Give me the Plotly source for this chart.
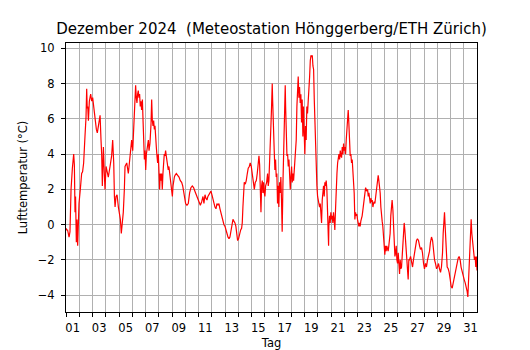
import plotly.graph_objects as go

# Zeit in Tagen seit 1. Dezember 2024 00:00
tag = [
 0.00, 0.05, 0.12, 0.23, 0.30, 0.38, 0.48, 0.55, 0.58, 0.63, 0.68, 0.72, 0.78, 0.83, 0.88, 0.93, 0.98,
 1.08, 1.18, 1.25, 1.33, 1.43, 1.51, 1.56, 1.60, 1.64, 1.69, 1.76, 1.86, 1.94,
 2.01, 2.11, 2.19, 2.29, 2.36, 2.44, 2.57, 2.64, 2.69, 2.74, 2.82, 2.89, 2.94,
 3.02, 3.12, 3.19, 3.32, 3.44, 3.52, 3.60, 3.65, 3.70, 3.77, 3.85, 3.95,
 4.02, 4.10, 4.17, 4.25, 4.32, 4.40, 4.45, 4.58, 4.70, 4.78, 4.85, 4.95,
 5.03, 5.10, 5.15, 5.20, 5.25, 5.30, 5.35, 5.40, 5.45, 5.50, 5.55, 5.60, 5.65, 5.70, 5.76, 5.81, 5.86, 5.91, 5.96,
 6.01, 6.06, 6.11, 6.16, 6.21, 6.26, 6.33, 6.41, 6.46, 6.51, 6.56, 6.61, 6.66, 6.71, 6.76, 6.81, 6.86, 6.91, 6.96,
 7.01, 7.06, 7.11, 7.16, 7.21, 7.26, 7.31, 7.36, 7.41, 7.46, 7.51, 7.56, 7.61, 7.66, 7.71, 7.76, 7.82, 7.87, 7.92, 7.97,
 8.02, 8.07, 8.12, 8.17, 8.22, 8.32, 8.42, 8.52, 8.62, 8.72, 8.80, 8.87, 8.95,
 9.02, 9.12, 9.22, 9.32, 9.42, 9.52, 9.62, 9.72, 9.82, 9.93,
 10.03, 10.13, 10.23, 10.33, 10.40, 10.48, 10.55, 10.63, 10.70, 10.78, 10.85, 10.93,
 11.00, 11.08, 11.16, 11.23, 11.31, 11.38, 11.46, 11.53, 11.61, 11.68, 11.76, 11.83, 11.91, 11.99,
 12.06, 12.14, 12.21, 12.29, 12.36, 12.44, 12.51, 12.59, 12.66, 12.74, 12.81, 12.86, 12.94,
 13.01, 13.09, 13.17, 13.24, 13.29, 13.34, 13.39, 13.44, 13.52, 13.59, 13.67, 13.74, 13.82, 13.89, 13.97,
 14.04, 14.12, 14.20, 14.27, 14.35, 14.42, 14.50, 14.55, 14.60, 14.65, 14.70, 14.75, 14.80, 14.85, 14.90, 14.95,
 15.00, 15.05, 15.13, 15.20, 15.25, 15.30, 15.35, 15.40, 15.45, 15.50, 15.55, 15.58, 15.62, 15.65, 15.70, 15.75,
 15.80, 15.85, 15.90, 15.95,
 16.00, 16.05, 16.10, 16.15, 16.20, 16.25, 16.30, 16.36, 16.41, 16.46, 16.51, 16.53, 16.56, 16.61, 16.66, 16.71,
 16.76, 16.81, 16.86, 16.91, 16.96,
 17.01, 17.06, 17.11, 17.16, 17.21, 17.26, 17.31, 17.36, 17.41, 17.46, 17.51, 17.56, 17.61, 17.66, 17.71, 17.76,
 17.81, 17.86, 17.91, 17.96,
 18.01, 18.06, 18.11, 18.16, 18.21, 18.27, 18.32, 18.37, 18.42, 18.47, 18.52, 18.57, 18.62, 18.67, 18.72, 18.77,
 18.82, 18.87, 18.92, 18.97,
 19.02, 19.07, 19.12, 19.17, 19.22, 19.27, 19.32, 19.37, 19.42, 19.47, 19.52, 19.57, 19.62, 19.67, 19.72, 19.77,
 19.80, 19.82, 19.87, 19.92, 19.97,
 20.02, 20.07, 20.12, 20.17, 20.22, 20.27, 20.33, 20.38, 20.43, 20.48, 20.53, 20.58, 20.63, 20.68, 20.73, 20.78,
 20.83, 20.88, 20.93, 20.98,
 21.03, 21.08, 21.13, 21.18, 21.23, 21.28, 21.33, 21.38, 21.43, 21.48, 21.53, 21.58, 21.63, 21.68, 21.73, 21.78,
 21.83, 21.88, 21.93, 21.98,
 22.03, 22.08, 22.13, 22.18, 22.23, 22.28, 22.33, 22.38, 22.43, 22.48, 22.54, 22.59, 22.64, 22.69, 22.74, 22.79,
 22.84, 22.89, 22.94, 22.99,
 23.04, 23.09, 23.14, 23.19, 23.24, 23.29, 23.34, 23.39, 23.44, 23.49, 23.54, 23.59, 23.64, 23.69, 23.74, 23.79,
 23.84, 23.89, 23.94, 23.99,
 24.04, 24.09, 24.14, 24.19, 24.24, 24.29, 24.34, 24.39, 24.44, 24.49, 24.54, 24.59, 24.65, 24.70, 24.75, 24.80,
 24.85, 24.90, 24.95,
 25.00, 25.05, 25.10, 25.15, 25.20, 25.25, 25.30, 25.35, 25.40, 25.45, 25.50, 25.55, 25.60, 25.65, 25.70, 25.75,
 25.80, 25.85, 25.90, 25.98,
 26.05, 26.13, 26.20, 26.28, 26.35, 26.43, 26.50, 26.58, 26.66, 26.73, 26.81, 26.88, 26.96,
 27.03, 27.11, 27.18, 27.26, 27.33, 27.41, 27.48, 27.56, 27.64, 27.71, 27.79, 27.86, 27.94,
 28.01, 28.09, 28.16, 28.24, 28.31, 28.39, 28.44, 28.49, 28.54, 28.59, 28.64, 28.69, 28.74, 28.82, 28.89, 28.97,
 29.04, 29.12, 29.19, 29.27, 29.34, 29.42, 29.49, 29.57, 29.64, 29.72, 29.79, 29.87, 29.95,
 30.02, 30.10, 30.17, 30.25, 30.30, 30.35, 30.40, 30.45, 30.50, 30.55, 30.60, 30.65, 30.70, 30.75, 30.80, 30.85,
 30.90, 30.95, 30.99,
]

# Lufttemperatur in °C
temperatur = [
 -0.2, -0.3, -0.3, -0.7, -0.4, 2.0, 3.2, 4.0, 4.0, 3.4, 0.7, 1.6, -1.0, 0.3, -1.2, -0.1, 1.2,
 2.0, 2.9, 3.0, 3.5, 5.0, 6.1, 7.7, 6.6, 6.7, 5.9, 7.0, 7.4, 7.0,
 7.2, 6.5, 5.9, 5.4, 5.2, 5.7, 6.2, 4.8, 4.0, 2.2, 4.4, 2.9, 2.0,
 3.3, 2.9, 2.7, 3.3, 3.9, 4.8, 3.5, 1.6, 1.0, 1.6, 1.7, 1.0,
 0.7, 0.3, -0.5, 0.1, 0.7, 2.0, 3.3, 3.5, 2.9, 3.5, 4.0, 4.8,
 4.2, 5.4, 5.9, 6.7, 7.9, 7.2, 6.9, 7.4, 7.6, 7.2, 7.4, 6.7, 7.0, 6.5, 7.1, 5.9, 4.4, 3.7, 4.2,
 3.1, 4.0, 4.2, 4.4, 4.8, 4.2, 4.6, 5.7, 7.1, 5.9, 5.6, 5.9, 5.4, 5.6, 5.2, 4.4, 3.9, 3.5, 4.0,
 3.1, 2.0, 2.9, 2.5, 2.9, 2.0, 2.9, 3.3, 4.0, 3.9, 4.2, 3.9, 3.7, 3.5, 3.1, 3.3, 2.9, 2.7, 2.4, 2.0,
 1.6, 2.2, 2.6, 2.7, 2.8, 2.9, 2.8, 2.7, 2.5, 2.4, 2.2, 1.8, 1.4,
 1.2, 1.1, 1.2, 1.8, 2.1, 2.2, 2.1, 1.9, 1.7, 1.4,
 1.2, 1.1, 1.3, 1.6, 1.2, 1.7, 1.5, 1.4, 1.6, 1.7, 1.8, 1.9,
 1.7, 1.4, 1.2, 1.0, 0.9, 1.2, 1.1, 1.2, 0.9, 0.7, 0.4, 0.1, 0.0, -0.1,
 -0.4, -0.5, -0.7, -0.8, -0.7, -0.4, 0.0, 0.3, 0.2, 0.1, -0.1, -0.6, -0.9,
 -0.8, -0.5, -0.3, -0.2, 0.1, 1.0, 2.2, 2.4, 2.3, 2.5, 2.9, 3.2, 3.3, 3.5, 3.3,
 2.9, 2.4, 2.0, 2.4, 2.5, 2.9, 3.7, 3.9, 3.4, 2.4, 0.7, 2.2, 2.5, 1.8, 2.4, 1.8,
 1.6, 2.2, 2.4, 2.9, 2.2, 2.5, 3.3, 4.8, 5.6, 6.7, 8.0, 7.1, 5.6, 5.4, 4.2, 3.1,
 3.7, 2.7, 2.9, 1.2,
 2.2, 1.0, 2.4, 1.8, 2.7, 1.4, -0.4, 2.4, 4.8, 6.1, 7.1, 7.9, 6.7, 5.0, 3.9, 4.0,
 3.3, 3.7, 2.9, 2.0, 2.7,
 3.3, 2.4, 2.9, 2.5, 3.1, 3.7, 4.2, 4.8, 6.7, 8.0, 8.4, 7.2, 7.8, 6.9, 7.4, 5.8,
 7.1, 5.0, 6.7, 5.2,
 4.0, 5.6, 4.8, 6.7, 6.3, 7.1, 7.6, 8.4, 9.3, 9.6, 9.5, 9.6, 9.0, 8.8, 7.1, 5.4,
 4.0, 2.9, 2.2, 1.6,
 1.4, 1.2, 1.0, 1.2, 0.7, 0.1, 1.4, 1.8, 2.2, 1.6, 2.4, 2.2, 2.5, 2.0, 0.8, -0.5,
 -1.2, -0.1, 0.5, 0.1, 0.7,
 0.3, 0.5, 0.1, 0.7, 0.3, -0.3, 1.0, 2.4, 2.9, 3.5, 3.9, 4.0, 3.7, 4.2, 3.9, 3.8,
 4.4, 4.0, 4.6, 4.2,
 4.4, 4.0, 4.8, 5.4, 5.9, 6.5, 5.7, 4.0, 3.9, 4.0, 3.5, 3.7, 3.1, 2.7, 1.8, 0.3,
 0.7, 0.5, 0.6, 0.3,
 0.0, -0.1, 0.1, -0.1, 0.2, 0.3, 0.5, 0.8, 1.2, 1.6, 2.0, 2.1, 2.0, 1.9, 2.0, 1.6,
 1.8, 1.4, 1.2, 1.5,
 1.3, 1.4, 1.0, 1.2, 1.3, 1.2, 1.6, 2.0, 2.4, 2.5, 2.8, 2.5, 2.2, 1.8, 1.0, 0.3,
 0.2, -0.1, -0.9, -1.5,
 -1.7, -1.2, -1.5, -1.2, -1.3, -1.5, -1.2, -0.9, -0.5, 0.5, 1.2, 1.4, 0.8, -0.1, -0.9, -1.8,
 -1.6, -1.2, -2.0,
 -2.2, -1.6, -2.0, -2.8, -2.0, -2.5, -2.4, -1.8, -1.2, -0.3, 0.1, -0.3, -1.0, -1.8, -2.4, -2.5,
 -3.1, -2.0, -2.0, -1.8,
 -2.2, -2.4, -2.0, -1.6, -1.2, -0.9, -0.8, -0.9, -1.2, -1.4, -1.3, -1.6, -2.2,
 -2.5, -2.2, -2.4, -2.0, -1.8, -1.5, -1.0, -0.7, -0.9, -1.5, -2.0, -2.2, -2.5,
 -2.4, -2.2, -2.5, -2.7, -2.4, -1.6, -0.5, 0.3, 0.7, -0.1, -1.2, -1.8, -2.4, -2.5, -2.7, -3.1,
 -3.5, -3.6, -3.3, -3.1, -2.9, -2.5, -2.2, -1.9, -1.8, -2.0, -2.4, -2.7, -2.9,
 -3.1, -3.3, -3.5, -3.8, -4.1, -3.3, -2.5, -1.6, -0.1, 0.3, -0.5, -0.9, -1.5, -1.8, -2.0, -1.8,
 -2.4, -1.8, -2.6,
]

# Beschriftung der Tage (jeweils Tagesmitte)
tick_pos = [0.5 + 2 * k for k in range(16)]
tick_labels = ["01", "03", "05", "07", "09", "11", "13", "15",
               "17", "19", "21", "23", "25", "27", "29", "31"]

fig = go.Figure()
fig.add_trace(go.Scatter(x=tag, y=temperatur, mode="lines",
                         line=dict(color="#ff0000", width=1.2),
                         hoverinfo="skip"))

grid = "#b0b0b0"
fig.update_layout(
    template="none",
    width=530, height=350,
    margin=dict(l=58, r=61, t=35, b=46, autoexpand=False),
    paper_bgcolor="white", plot_bgcolor="white",
    font=dict(family="DejaVu Sans", size=11.5, color="black"),
    showlegend=False,
    title=dict(text="Dezember 2024\u00a0 (Meteostation Hönggerberg/ETH Zürich)",
               x=0.5, xref="paper", xanchor="center",
               y=1 - 21 / 350, yref="container", yanchor="middle",
               font=dict(size=15, family="DejaVu Sans", color="black")),
    xaxis=dict(range=[0, 30.99], tickmode="array", tickvals=tick_pos, ticktext=tick_labels,
               ticks="outside", ticklen=5, tickcolor="rgba(0,0,0,0)",
               showgrid=False, zeroline=False, automargin=False,
               showline=True, linecolor="black", linewidth=1, mirror=True,
               minor=dict(tickmode="linear", tick0=0, dtick=1, ticks="outside",
                          ticklen=4, tickcolor="black", tickwidth=1,
                          showgrid=True, gridcolor=grid, gridwidth=1),
               title=dict(text="Tag", standoff=5, font=dict(size=11.5))),
    yaxis=dict(range=[-4.95, 10.3], tickmode="linear", tick0=0, dtick=2,
               ticks="outside", ticklen=4, tickcolor="black", tickwidth=1,
               ticklabelstandoff=4,
               showgrid=True, gridcolor=grid, gridwidth=1, zeroline=False, automargin=False,
               showline=True, linecolor="black", linewidth=1, mirror=True,
               title=dict(text="Lufttemperatur (°C)", standoff=7, font=dict(size=11.5))),
)

fig.write_html("out.html")
